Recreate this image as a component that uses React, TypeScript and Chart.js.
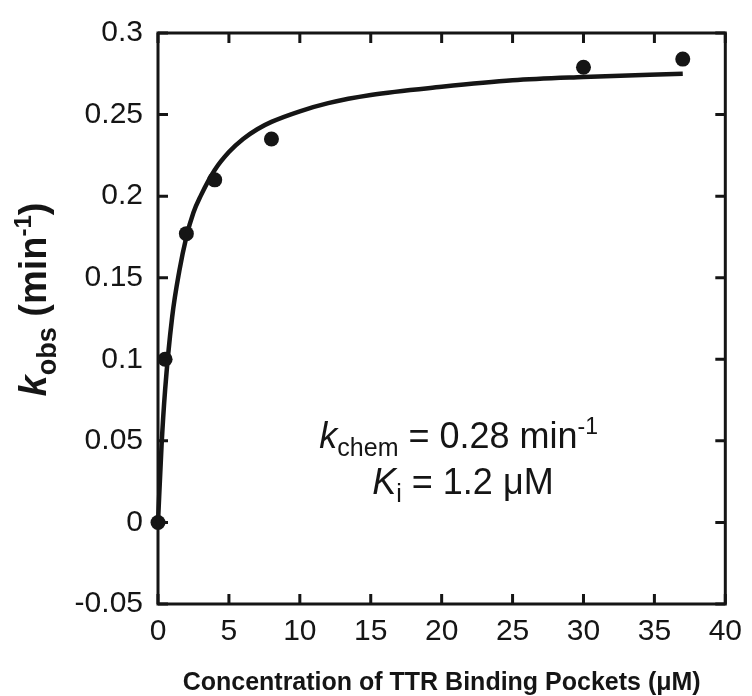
import React, { useEffect, useRef } from "react";
import { Chart, registerables } from "chart.js";

Chart.register(...registerables);

// Measured data points
const pointX = [0, 0.5, 2, 4, 8, 30, 37];
const pointY = [0, 0.1, 0.177, 0.21, 0.235, 0.279, 0.284];

// Fitted curve
const fitX = [0, 0.25, 0.5, 1, 1.5, 2, 2.5, 3, 4, 5, 6, 7, 8, 10, 12, 15, 20, 25, 30, 37];
const fitY = [0, 0.047, 0.081, 0.126, 0.154, 0.175, 0.19, 0.2, 0.216, 0.227, 0.235, 0.241, 0.2455, 0.252, 0.257, 0.262, 0.267, 0.271, 0.273, 0.275];

// Axis settings
const xMin = 0;
const xMax = 40;
const xStep = 5;
const yMin = -0.05;
const yMax = 0.3;
const yStep = 0.05;

const xTitle = "Concentration of TTR Binding Pockets (μM)";

const INK = "#151515";
const SANS = "'Liberation Sans', Arial, Helvetica, sans-serif";

type Seg = { t: string; font: string; dy: number };

function drawSegs(ctx: CanvasRenderingContext2D, segs: Seg[], cx: number, cy: number) {
  let total = 0;
  const widths: number[] = [];
  for (const s of segs) {
    ctx.font = s.font;
    const w = ctx.measureText(s.t).width;
    widths.push(w);
    total += w;
  }
  let x = cx - total / 2;
  segs.forEach((s, i) => {
    ctx.font = s.font;
    ctx.fillText(s.t, x, cy + s.dy);
    x += widths[i];
  });
}

const framePlugin = {
  id: "framePlugin",
  afterDraw(chart: any) {
    const { ctx, chartArea } = chart;
    const { left, right, top, bottom } = chartArea;
    const xs = chart.scales.x;
    const ys = chart.scales.y;
    ctx.save();
    ctx.strokeStyle = INK;
    ctx.fillStyle = INK;
    ctx.lineWidth = 3;
    ctx.lineCap = "square";
    ctx.strokeRect(left, top, right - left, bottom - top);
    const tl = 10;
    ctx.lineCap = "butt";
    ctx.beginPath();
    xs.ticks.forEach((t: any) => {
      const px = xs.getPixelForValue(t.value);
      ctx.moveTo(px, bottom);
      ctx.lineTo(px, bottom - tl);
      ctx.moveTo(px, top);
      ctx.lineTo(px, top + tl);
    });
    ys.ticks.forEach((t: any) => {
      const py = ys.getPixelForValue(t.value);
      ctx.moveTo(left, py);
      ctx.lineTo(left + tl, py);
      ctx.moveTo(right, py);
      ctx.lineTo(right - tl, py);
    });
    ctx.stroke();

    // x title
    ctx.textAlign = "left";
    ctx.textBaseline = "alphabetic";
    drawSegs(ctx, [{ t: xTitle, font: `bold 25px ${SANS}`, dy: 0 }], (left + right) / 2, 690);

    // y title (rotated)
    ctx.save();
    ctx.translate(left - 112, (top + bottom) / 2 - 19);
    ctx.rotate(-Math.PI / 2);
    drawSegs(
      ctx,
      [
        { t: "k", font: `italic bold 38px ${SANS}`, dy: 0 },
        { t: "obs", font: `bold 27px ${SANS}`, dy: 10 },
        { t: " (min", font: `bold 38px ${SANS}`, dy: 0 },
        { t: "-1", font: `bold 24px ${SANS}`, dy: -15 },
        { t: ")", font: `bold 38px ${SANS}`, dy: 0 },
      ],
      0,
      0
    );
    ctx.restore();

    // annotation
    const a1x = xs.getPixelForValue(21.2);
    const a1y = ys.getPixelForValue(0.0454);
    drawSegs(
      ctx,
      [
        { t: "k", font: `italic 36px ${SANS}`, dy: 0 },
        { t: "chem", font: `25px ${SANS}`, dy: 8 },
        { t: " = 0.28 min", font: `36px ${SANS}`, dy: 0 },
        { t: "-1", font: `23px ${SANS}`, dy: -14 },
      ],
      a1x,
      a1y
    );
    const a2x = xs.getPixelForValue(21.5);
    const a2y = ys.getPixelForValue(0.0175);
    drawSegs(
      ctx,
      [
        { t: "K", font: `italic 36px ${SANS}`, dy: 0 },
        { t: "i", font: `25px ${SANS}`, dy: 8 },
        { t: " = 1.2 μM", font: `36px ${SANS}`, dy: 0 },
      ],
      a2x,
      a2y
    );
    ctx.restore();
  },
};

export default function App() {
  const ref = useRef<HTMLCanvasElement | null>(null);
  useEffect(() => {
    if (!ref.current) return;
    const chart = new Chart(ref.current, {
      type: "scatter",
      data: {
        datasets: [
          {
            label: "fit",
            data: fitX.map((x, i) => ({ x, y: fitY[i] })),
            showLine: true,
            borderColor: INK,
            backgroundColor: INK,
            borderWidth: 4.5,
            pointRadius: 0,
            cubicInterpolationMode: "monotone",
            clip: false,
          } as any,
          {
            label: "data",
            data: pointX.map((x, i) => ({ x, y: pointY[i] })),
            showLine: false,
            borderColor: INK,
            backgroundColor: INK,
            pointRadius: 7.5,
            pointBorderWidth: 0,
            clip: false,
          } as any,
        ],
      },
      options: {
        animation: false,
        responsive: true,
        maintainAspectRatio: false,
        layout: { padding: { left: 0, right: 19, top: 28, bottom: 0 } },
        plugins: { legend: { display: false }, tooltip: { enabled: false } },
        scales: {
          x: {
            type: "linear",
            min: xMin,
            max: xMax,
            grid: { display: false, drawTicks: false },
            border: { display: false },
            ticks: {
              stepSize: xStep,
              color: INK,
              padding: 10,
              maxRotation: 0,
              font: { family: SANS, size: 30 },
            },
            afterFit: (s: any) => {
              s.height = 92;
            },
          },
          y: {
            type: "linear",
            min: yMin,
            max: yMax,
            grid: { display: false, drawTicks: false },
            border: { display: false },
            ticks: {
              stepSize: yStep,
              color: INK,
              padding: 15,
              font: { family: SANS, size: 30 },
              callback: (v: any) => String(parseFloat(Number(v).toFixed(2))),
            },
            afterFit: (s: any) => {
              s.width = 158;
            },
          },
        },
      },
      plugins: [framePlugin],
    });
    return () => chart.destroy();
  }, []);
  return (
    <div style={{ position: "fixed", left: 0, top: 0, width: 752, height: 696, background: "#fff" }}>
      <canvas ref={ref} />
    </div>
  );
}
